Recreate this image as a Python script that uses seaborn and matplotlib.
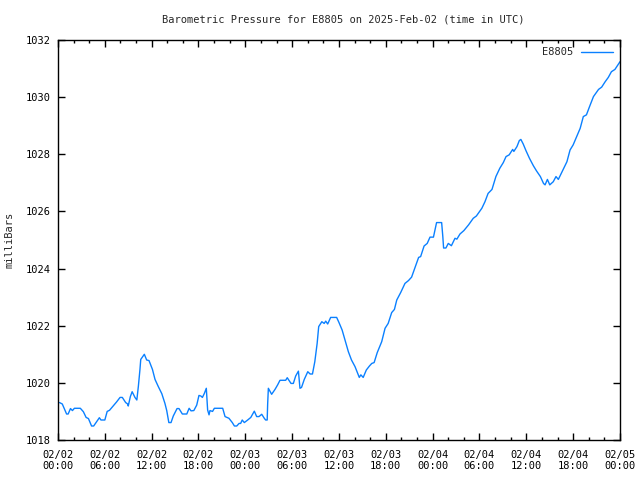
import numpy as np
import pandas as pd
import matplotlib
matplotlib.use("Agg")
import matplotlib.pyplot as plt
import matplotlib.dates as mdates
import seaborn as sns

# ---- data ----
start_time = "2025-02-02 00:00"
hours = [0.2, 0.55, 1.1, 1.3, 1.6, 1.85, 2.1, 2.86, 3.25, 3.6, 3.9, 4.3, 4.57, 5.3, 5.5, 6.0,
         6.3, 6.6, 7.5, 7.95, 8.24, 8.67, 8.93, 9.0, 9.27, 9.5, 9.86, 10.1, 10.3, 10.5, 10.6,
         11.06, 11.36, 11.66, 12.1, 12.43, 12.85, 13.3, 13.7, 13.93, 14.2, 14.48, 14.77, 15.25,
         15.5, 15.93, 16.5, 16.8, 17.04, 17.4, 17.77, 18.06, 18.3, 18.5, 18.75, 19.0, 19.17,
         19.35, 19.47, 19.8, 20.03, 21.1, 21.4, 21.9, 22.33, 22.6, 22.9, 23.2, 23.4, 23.6, 23.87,
         24.3, 24.7, 25.15, 25.45, 25.75, 26.1, 26.43, 26.6, 26.8, 26.86, 26.95, 27.37, 27.8,
         28.14, 28.44, 29.17, 29.37, 29.85, 30.15, 30.45, 30.8, 31.0, 31.2, 31.55, 32.0, 32.3,
         32.6, 32.9, 33.2, 33.4, 33.8, 34.1, 34.3, 34.55, 34.93, 35.7, 36.0, 36.4, 36.77, 37.2,
         37.6, 38.05, 38.4, 38.6, 38.8, 39.1, 39.5, 39.9, 40.2, 40.5, 40.9, 41.47, 41.9, 42.3,
         42.75, 43.1, 43.4, 43.9, 44.45, 44.9, 45.3, 45.7, 46.2, 46.46, 46.9, 47.3, 47.66, 48.1,
         48.5, 49.0, 49.15, 49.3, 49.4, 49.7, 50.0, 50.4, 50.86, 51.1, 51.5, 52.0, 52.6, 53.2,
         53.6, 54.3, 54.7, 55.1, 55.6, 56.1, 56.6, 57.05, 57.4, 57.8, 58.25, 58.4, 58.8, 59.1,
         59.3, 59.6, 59.95, 60.4, 60.9, 61.3, 61.8, 62.2, 62.4, 62.7, 63.0, 63.45, 63.8, 64.1,
         64.65, 65.2, 65.6, 66.0, 66.45, 66.9, 67.3, 67.7, 68.1, 68.6, 69.25, 69.65, 70.1, 70.5,
         70.9, 71.35, 72.0]
pressure = [1019.31, 1019.26, 1018.91, 1018.91, 1019.10, 1019.03, 1019.11, 1019.11, 1018.99,
            1018.79, 1018.75, 1018.49, 1018.49, 1018.78, 1018.70, 1018.70, 1019.00, 1019.04,
            1019.33, 1019.49, 1019.49, 1019.31, 1019.26, 1019.19, 1019.52, 1019.69, 1019.49,
            1019.40, 1019.89, 1020.47, 1020.82, 1021.00, 1020.80, 1020.78, 1020.47, 1020.12,
            1019.87, 1019.62, 1019.28, 1019.03, 1018.61, 1018.61, 1018.84, 1019.10, 1019.10,
            1018.91, 1018.91, 1019.11, 1019.02, 1019.03, 1019.22, 1019.56, 1019.54, 1019.49,
            1019.63, 1019.81, 1019.05, 1018.88, 1019.03, 1019.00, 1019.11, 1019.11, 1018.82,
            1018.76, 1018.61, 1018.49, 1018.49, 1018.58, 1018.58, 1018.70, 1018.61, 1018.70,
            1018.79, 1019.01, 1018.82, 1018.82, 1018.90, 1018.76, 1018.70, 1018.70, 1019.26,
            1019.81, 1019.60, 1019.77, 1019.93, 1020.09, 1020.09, 1020.18, 1019.98, 1019.98,
            1020.24, 1020.41, 1019.81, 1019.84, 1020.12, 1020.39, 1020.31, 1020.31, 1020.74,
            1021.38, 1021.97, 1022.14, 1022.08, 1022.16, 1022.06, 1022.29, 1022.29, 1022.11,
            1021.85, 1021.50, 1021.09, 1020.80, 1020.57, 1020.33, 1020.19, 1020.28, 1020.19,
            1020.45, 1020.59, 1020.68, 1020.71, 1021.06, 1021.44, 1021.91, 1022.08, 1022.46,
            1022.57, 1022.90, 1023.16, 1023.48, 1023.58, 1023.70, 1024.01, 1024.39, 1024.42,
            1024.79, 1024.88, 1025.10, 1025.10, 1025.61, 1025.61, 1025.61, 1025.12, 1024.72,
            1024.72, 1024.88, 1024.80, 1025.06, 1025.03, 1025.21, 1025.33, 1025.53, 1025.76,
            1025.84, 1026.11, 1026.34, 1026.63, 1026.77, 1027.22, 1027.51, 1027.71, 1027.92,
            1027.98, 1028.17, 1028.10, 1028.27, 1028.48, 1028.52, 1028.36, 1028.13, 1027.86,
            1027.60, 1027.42, 1027.22, 1026.98, 1026.93, 1027.12, 1026.93, 1027.04, 1027.22,
            1027.12, 1027.43, 1027.74, 1028.15, 1028.33, 1028.62, 1028.91, 1029.32, 1029.38,
            1029.67, 1030.02, 1030.27, 1030.35, 1030.54, 1030.69, 1030.89, 1030.97, 1031.24]
station = "E8805"
title = "Barometric Pressure for E8805 on 2025-Feb-02 (time in UTC)"
ylabel = "milliBars"
y_min, y_max = 1018, 1032
x_end = "2025-02-05 00:00"

# ---- build frame ----
t0 = pd.Timestamp(start_time)
df = pd.DataFrame({
    "time": [t0 + pd.Timedelta(hours=h) for h in hours],
    "pressure": pressure,
    "station": station,
})

sns.set_style("ticks")
plt.rcParams["font.family"] = ["DejaVu Sans Mono"]
plt.rcParams["font.size"] = 7.5

fig = plt.figure(figsize=(6.4, 4.8), dpi=100)
ax = fig.add_axes([58 / 640, 1 - 440 / 480, (620 - 58) / 640, 400 / 480])

sns.lineplot(data=df, x="time", y="pressure", hue="station",
             palette=["#0a80ff"], linewidth=1.0, ax=ax)

ax.set_xlim(t0, pd.Timestamp(x_end))
ax.set_ylim(y_min, y_max)
ax.set_yticks(np.arange(y_min, y_max + 1, 2))
ax.xaxis.set_major_locator(mdates.HourLocator(byhour=range(0, 24, 6)))
ax.xaxis.set_minor_locator(mdates.HourLocator(byhour=range(0, 24, 2)))
ax.xaxis.set_major_formatter(mdates.DateFormatter("%m/%d\n%H:%M"))

ax.tick_params(which="both", direction="in", top=True, right=True, colors="black",
               labelsize=7.5)
ax.tick_params(which="major", length=5, width=1, pad=5)
ax.tick_params(which="minor", length=2.5, width=1)
ax.tick_params(axis="x", which="major", pad=7)
for s in ax.spines.values():
    s.set_color("black")
    s.set_linewidth(1.0)

ax.set_xlabel("")
ax.set_ylabel("")
fig.text(10 / 640, 0.5, ylabel, rotation=90, ha="center", va="center", fontsize=7.5)
fig.text(343 / 640, 1 - 20 / 480, title, ha="center", va="center", fontsize=7.5)

leg = ax.legend(loc="upper right", frameon=False, markerfirst=False, handlelength=3.0,
                fontsize=7.5, borderaxespad=0.3)
leg.set_title(None)

fig.savefig("out.png", dpi=100)
